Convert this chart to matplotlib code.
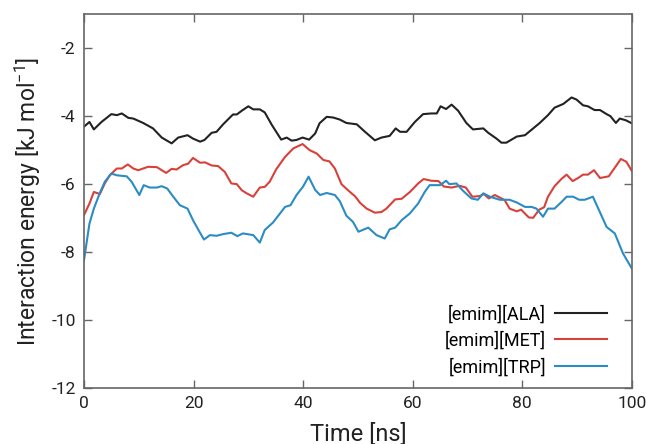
import numpy as np
import matplotlib.pyplot as plt

plt.rcParams["font.family"] = ["Roboto", "DejaVu Sans"]
plt.rcParams["axes.unicode_minus"] = False
plt.rcParams["mathtext.fontset"] = "custom"
plt.rcParams["mathtext.rm"] = "Roboto"

# [emim][ALA]
t_ala = [0, 1.0, 1.8, 3.2, 5.0, 6.0, 6.9, 8.1, 9.0, 10.8, 12.6, 14.2, 16.0, 17.2,
         18.9, 19.9, 21.2, 22.0, 23.3, 24.2, 25.4, 27.2, 27.9, 28.8, 30.0, 30.9,
         32.1, 33.0, 34.3, 36.0, 37.0, 37.9, 38.8, 39.9, 41.1, 42.2, 43.0, 44.3,
         45.5, 46.7, 47.9, 49.8, 51.3, 53.1, 54.3, 55.8, 56.9, 57.7, 58.9, 60.4,
         61.9, 63.4, 64.4, 65.1, 66.1, 67.1, 68.3, 69.8, 71.0, 72.9, 73.8, 75.3,
         76.2, 77.1, 79.0, 80.5, 82.0, 83.2, 84.7, 85.9, 87.5, 89.0, 89.9, 91.1,
         92.0, 93.2, 94.2, 95.4, 96.1, 97.1, 97.8, 98.9, 100]
e_ala = [-4.31, -4.17, -4.39, -4.17, -3.94, -3.97, -3.92, -4.05, -4.07, -4.20,
         -4.36, -4.63, -4.80, -4.63, -4.56, -4.66, -4.75, -4.70, -4.49, -4.46,
         -4.24, -3.95, -3.95, -3.84, -3.71, -3.80, -3.80, -3.89, -4.26, -4.69,
         -4.63, -4.72, -4.70, -4.63, -4.69, -4.51, -4.21, -4.02, -4.04, -4.10,
         -4.20, -4.24, -4.46, -4.71, -4.63, -4.58, -4.36, -4.46, -4.46, -4.17,
         -3.94, -3.92, -3.92, -3.71, -3.79, -3.66, -3.84, -4.20, -4.39, -4.36,
         -4.49, -4.66, -4.78, -4.78, -4.60, -4.56, -4.36, -4.20, -3.97, -3.75,
         -3.64, -3.45, -3.51, -3.68, -3.71, -3.82, -3.82, -3.94, -4.00, -4.20,
         -4.07, -4.12, -4.21]

# [emim][MET]
t_met = [0, 1.0, 1.8, 2.9, 3.8, 4.7, 6.0, 6.9, 8.0, 9.0, 9.9, 11.7, 13.3, 15.0,
         16.0, 16.9, 18.1, 19.0, 19.9, 21.2, 22.1, 23.3, 24.5, 25.7, 26.9, 27.9,
         28.8, 29.7, 30.9, 32.1, 33.0, 33.9, 35.1, 36.7, 38.2, 39.9, 41.2, 42.5,
         43.7, 44.8, 45.8, 47.0, 48.2, 49.5, 50.4, 51.6, 53.1, 54.3, 55.2, 56.8,
         58.0, 59.5, 61.0, 62.0, 63.4, 64.7, 65.7, 67.1, 68.6, 69.7, 70.9, 72.3,
         73.0, 73.9, 75.0, 76.8, 77.7, 79.0, 79.8, 81.2, 82.0, 83.1, 84.0, 84.7,
         85.9, 87.2, 88.1, 89.2, 90.2, 91.1, 92.0, 93.1, 94.2, 95.8, 97.1, 98.0,
         99.0, 100]
e_met = [-6.91, -6.57, -6.23, -6.29, -5.98, -5.74, -5.54, -5.54, -5.42, -5.54,
         -5.59, -5.49, -5.50, -5.67, -5.55, -5.57, -5.44, -5.40, -5.23, -5.37,
         -5.36, -5.45, -5.47, -5.64, -5.98, -6.00, -6.18, -6.27, -6.37, -6.10,
         -6.08, -5.93, -5.56, -5.20, -4.95, -4.82, -5.00, -5.10, -5.29, -5.33,
         -5.54, -6.00, -6.18, -6.36, -6.55, -6.72, -6.84, -6.82, -6.72, -6.45,
         -6.43, -6.23, -5.98, -5.85, -5.90, -5.91, -6.07, -6.10, -6.05, -6.10,
         -6.37, -6.35, -6.29, -6.42, -6.32, -6.47, -6.72, -6.80, -6.75, -6.98,
         -6.99, -6.75, -6.68, -6.37, -6.06, -5.84, -5.72, -5.91, -5.82, -5.72,
         -5.72, -5.59, -5.82, -5.77, -5.47, -5.26, -5.34, -5.61]

# [emim][TRP]
t_trp = [0, 1.0, 1.8, 2.9, 3.8, 5.0, 6.0, 7.8, 8.7, 10.1, 10.9, 12.0, 13.3, 14.2,
         15.2, 16.3, 17.5, 18.9, 19.9, 20.9, 21.9, 23.0, 24.2, 25.4, 26.9, 28.0,
         29.0, 30.9, 32.1, 33.0, 34.5, 35.8, 36.7, 37.7, 38.8, 40.0, 41.0, 42.2,
         43.1, 44.3, 45.8, 46.7, 47.9, 49.1, 50.1, 51.9, 53.4, 54.9, 55.8, 56.8,
         58.0, 59.5, 61.0, 62.2, 63.1, 65.0, 66.1, 66.7, 68.0, 69.1, 70.7, 71.9,
         72.9, 74.1, 75.9, 77.7, 79.0, 80.5, 81.7, 82.6, 83.8, 84.7, 85.9, 87.2,
         88.1, 89.3, 90.4, 91.4, 92.9, 94.0, 95.4, 96.9, 98.4, 100]
e_trp = [-8.24, -7.16, -6.72, -6.26, -5.93, -5.69, -5.74, -5.77, -5.93, -6.32,
         -6.03, -6.10, -6.10, -6.06, -6.13, -6.37, -6.62, -6.72, -7.06, -7.35,
         -7.63, -7.50, -7.52, -7.47, -7.43, -7.53, -7.45, -7.50, -7.72, -7.35,
         -7.13, -6.86, -6.67, -6.62, -6.32, -6.07, -5.78, -6.17, -6.32, -6.26,
         -6.32, -6.50, -6.93, -7.11, -7.40, -7.28, -7.50, -7.60, -7.33, -7.28,
         -7.06, -6.86, -6.57, -6.23, -6.03, -6.03, -5.90, -6.00, -5.98, -6.18,
         -6.42, -6.46, -6.27, -6.37, -6.46, -6.46, -6.54, -6.67, -6.67, -6.72,
         -6.96, -6.72, -6.72, -6.52, -6.37, -6.37, -6.46, -6.46, -6.37, -6.76,
         -7.26, -7.45, -8.04, -8.48]

fig = plt.figure(figsize=(6.46, 4.44), dpi=100)
ax = fig.add_axes([0.130, 0.126, 0.848, 0.842])

ax.plot(t_ala, e_ala, color="#222222", lw=1.5, label="[emim][ALA]")
ax.plot(t_met, e_met, color="#d8413a", lw=1.5, label="[emim][MET]")
ax.plot(t_trp, e_trp, color="#2b8cc4", lw=1.5, label="[emim][TRP]")

ax.set_xlim(0, 100)
ax.set_ylim(-12, -1)
ax.set_xticks([0, 20, 40, 60, 80, 100])
ax.set_yticks([-12, -10, -8, -6, -4, -2])
ax.tick_params(direction="in", length=6, width=1, color="#666666",
               top=True, right=True, labelsize=12.5, pad=6, labelcolor="#222222")
for s in ax.spines.values():
    s.set_color("#666666")
    s.set_linewidth(1.2)

ax.set_xlabel("Time [ns]", fontsize=17, labelpad=8, color="#222222")
ax.set_ylabel("Interaction energy [kJ mol$^{\\mathregular{-1}}$]", fontsize=16.5,
              labelpad=6, color="#222222")

ax.legend(loc="lower right", frameon=False, markerfirst=False, fontsize=13,
          handlelength=2.9, handletextpad=0.5, borderaxespad=0.5,
          labelspacing=0.45, bbox_to_anchor=(0.985, -0.012))

fig.savefig("out.png", dpi=100)
